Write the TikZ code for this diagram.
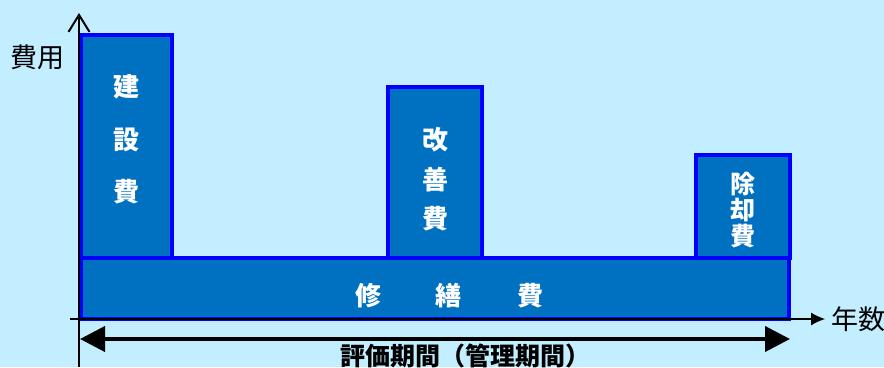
\documentclass[tikz,border=0pt]{standalone}
\usepackage{fontspec}
\newfontfamily\jp{Noto Sans CJK JP}
\usetikzlibrary{arrows.meta}
\definecolor{bg}{HTML}{C2EEFF}
\definecolor{boxfill}{HTML}{0070C0}
\definecolor{boxline}{HTML}{0000FF}
\tikzset{
  costbox/.style={fill=boxfill,draw=boxline,line width=3.5pt,inner sep=0pt,outer sep=0pt,anchor=south west},
  wlabel/.style={text=white,font=\jp\bfseries\fontsize{26}{30}\selectfont,align=center,inner sep=0pt},
  axis/.style={line width=2pt,black},
}
\begin{document}
\begin{tikzpicture}[x=1pt,y=1pt]
\fill[bg] (0,0) rectangle (884,367);
\useasboundingbox (0,0) rectangle (884,367);
% boxes
\node[costbox,minimum width=91pt,minimum height=223pt] (build) at (81,109) {};
\node[costbox,minimum width=94pt,minimum height=171pt] (kaizen) at (388,109) {};
\node[costbox,minimum width=94pt,minimum height=103pt] (jokyaku) at (696,109) {};
\node[costbox,minimum width=708pt,minimum height=61pt] (shuzen) at (81,48) {};
% labels
\node[wlabel] (k1) at (126.5,280) {建};
\node[wlabel] (k2) at (126.5,227) {設};
\node[wlabel] (k3) at (126.5,175) {費};
\node[wlabel] (g1) at (435,227) {改};
\node[wlabel] (g2) at (435,187) {善};
\node[wlabel] (g3) at (435,148) {費};
\node[wlabel,font=\jp\bfseries\fontsize{25}{27}\selectfont] (j) at (743,157) {除\\[-1pt]却\\[-1pt]費};
\node[wlabel] (s1) at (368,71) {修};
\node[wlabel] (s2) at (448,71) {繕};
\node[wlabel] (s3) at (530,71) {費};
% axes
\coordinate (o) at (79,48);
\coordinate (ybot) at (79,0);
\coordinate (ytop) at (79,354);
\coordinate (xl) at (70,48);
\coordinate (xr) at (825,48);
\draw[axis,-{Straight Barb[length=17pt,width=21pt]}] (ybot) -- (ytop);
\draw[line width=1.2pt,-{Latex[length=14pt,width=13pt]}] (xl) -- (xr);
\node[font=\jp\fontsize{27}{30}\selectfont,anchor=west,inner sep=0pt] (nen) at (831,48) {年数};
\node[font=\jp\fontsize{27}{30}\selectfont,inner sep=0pt] (hiyo) at (37,310) {費用};
% period arrow
\coordinate (pl) at (80,28);
\coordinate (pr) at (790,28);
\draw[line width=4pt,{Triangle[length=25pt,width=25pt]}-{Triangle[length=25pt,width=25pt]}] (pl) -- (pr);
\node[font=\jp\bfseries\fontsize{25}{30}\selectfont,inner sep=0pt] (period) at (465,11.5) {評価期間（管理期間）};
\end{tikzpicture}
\end{document}
